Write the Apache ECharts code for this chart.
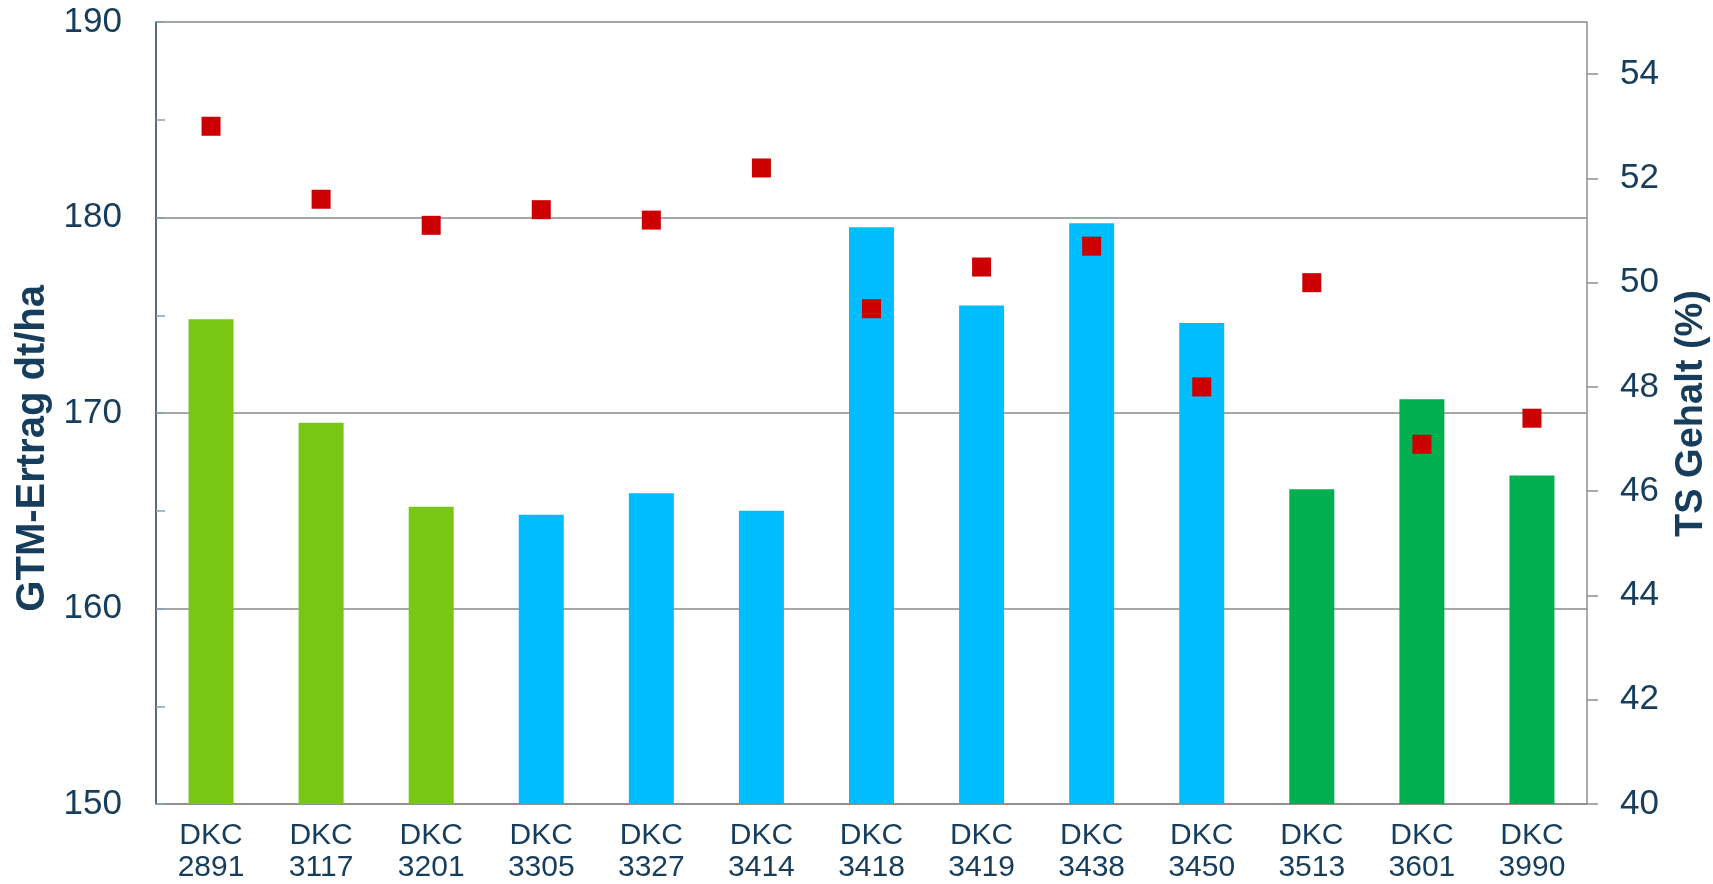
<!DOCTYPE html>
<html>
<head>
<meta charset="utf-8">
<script src="https://cdn.jsdelivr.net/npm/echarts@6/dist/echarts.min.js"></script>
<style>
  html, body { margin: 0; padding: 0; background: #fff; }
  #main { width: 1713px; height: 884px; }
</style>
</head>
<body>
<div id="main"></div>
<script>
// Sorten
var sorten = ["2891", "3117", "3201", "3305", "3327", "3414", "3418", "3419", "3438", "3450", "3513", "3601", "3990"];
// GTM-Ertrag dt/ha (Balken)
var ertrag = [174.8, 169.5, 165.2, 164.8, 165.9, 165.0, 179.5, 175.5, 179.7, 174.6, 166.1, 170.7, 166.8];
// TS Gehalt % (Punkte)
var tsGehalt = [53.0, 51.6, 51.1, 51.4, 51.2, 52.2, 49.5, 50.3, 50.7, 48.0, 50.0, 46.9, 47.4];
// Gruppe je Sorte (bestimmt die Balkenfarbe)
var gruppe = [0, 0, 0, 1, 1, 1, 1, 1, 1, 1, 2, 2, 2];

var gruppenFarben = ["#77c714", "#00bdff", "#00b050"];
var dunkel = "#173d5c";

var myChart = echarts.init(document.getElementById("main"));

var option = {
  animation: false,
  grid: { left: 156, right: 126, top: 22, bottom: 79, containLabel: false },
  xAxis: {
    type: "category",
    data: sorten.map(function (s) { return "DKC\n" + s; }),
    axisLine: { lineStyle: { color: "#8a8a8a", width: 1.5 } },
    axisTick: { show: false },
    axisLabel: {
      margin: 16,
      color: dunkel,
      fontFamily: "Liberation Sans Narrow, Arial Narrow, Liberation Sans",
      fontSize: 30,
      lineHeight: 32,
      interval: 0
    }
  },
  yAxis: [
    {
      type: "value",
      min: 150,
      max: 190,
      interval: 5,
      axisLine: { show: true, lineStyle: { color: "#1b3a57", width: 1.5 } },
      axisTick: { show: true, inside: true, length: 9, lineStyle: { color: "#8aa0b2", width: 1.5 } },
      axisLabel: {
        margin: 34,
        color: dunkel,
        fontFamily: "Liberation Sans, Arial",
        fontSize: 35,
        formatter: function (v) { return v % 10 === 0 ? v : ""; }
      },
      splitLine: {
        show: true,
        lineStyle: { color: ["#8a8a8a", "transparent"], width: 1.5 }
      }
    },
    {
      type: "value",
      min: 40,
      max: 55,
      interval: 2,
      position: "right",
      axisLine: { show: true, lineStyle: { color: "#8f8f8f", width: 1.5 } },
      axisTick: { show: true, inside: false, length: 11, lineStyle: { color: "#8f8f8f", width: 1.5 } },
      axisLabel: {
        margin: 33,
        color: dunkel,
        fontFamily: "Liberation Sans, Arial",
        fontSize: 35,
        showMaxLabel: false,
        formatter: function (v) { return v === 55 ? "" : v; }
      },
      splitLine: { show: false }
    }
  ],
  graphic: [
    {
      type: "text",
      left: 13,
      top: 285,
      rotation: Math.PI / 2,
      style: {
        text: "GTM-Ertrag dt/ha",
        fill: dunkel,
        font: "bold 40px 'Liberation Sans Narrow', 'Arial Narrow', sans-serif"
      }
    },
    {
      type: "text",
      right: 2,
      top: 290,
      rotation: Math.PI / 2,
      style: {
        text: "TS Gehalt (%)",
        fill: dunkel,
        font: "bold 38px 'Liberation Sans Narrow', 'Arial Narrow', sans-serif"
      }
    }
  ],
  series: [
    {
      name: "GTM-Ertrag",
      type: "bar",
      yAxisIndex: 0,
      barWidth: 45,
      data: ertrag.map(function (v, i) {
        return { value: v, itemStyle: { color: gruppenFarben[gruppe[i]] } };
      })
    },
    {
      name: "TS Gehalt",
      type: "scatter",
      yAxisIndex: 1,
      symbol: "rect",
      symbolSize: 19,
      itemStyle: { color: "#cc0000", opacity: 1 },
      data: tsGehalt
    }
  ]
};
myChart.setOption(option);
</script>
</body>
</html>
